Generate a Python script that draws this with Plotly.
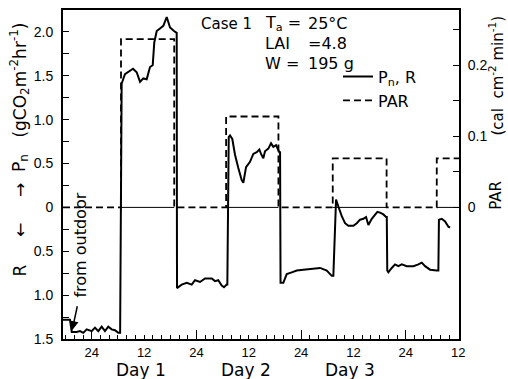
import plotly.graph_objects as go

# ---------------- data (hours from midnight before Day 1) ----------------
# Net photosynthesis (+) / respiration (-) in g CO2 m-2 hr-1
t_pn = [-6.6, -5.0, -4.6, -3.5, -2.7, -1.95, -1.17, -0.02, 0.73, 1.49, 2.27, 3.03, 3.78, 4.56, 5.32, 6.08, 6.5,
        6.85, 7.61, 8.76, 9.45, 10.30, 11.06, 11.81, 12.59, 13.35, 13.97, 14.33, 14.89, 15.64, 16.40, 17.18,
        17.94, 18.85, 19.31, 19.47,
        19.54, 20.62, 21.77, 22.91, 23.67, 24.82, 25.96, 26.72, 27.50, 28.26, 29.01, 29.79, 30.32, 30.94, 31.08,
        31.4, 31.70, 32.22, 32.84, 33.60, 34.38, 34.75, 35.37, 36.28, 37.04, 37.82, 38.42, 38.81, 39.33, 39.72,
        40.48, 41.10, 41.63, 42.25, 42.78, 43.00, 43.17,
        43.28, 43.92, 44.70, 45.85, 47.00, 48.51, 50.05, 51.95, 52.34, 53.88, 55.02, 55.39,
        56.01, 56.54, 57.32, 58.07, 58.83, 59.98, 60.76, 61.51, 62.27, 62.89, 63.42, 64.20, 64.95, 65.48,
        66.10, 66.86, 67.48, 67.64,
        67.75, 68.00, 68.78, 69.54, 70.30, 71.08, 72.22, 73.74, 74.89, 75.67, 76.42, 77.57, 79.10, 79.47,
        79.60, 80.25, 81.01, 81.77, 82.16]
v_pn = [-1.28, -1.28, -1.42, -1.42, -1.41, -1.43, -1.39, -1.41, -1.37, -1.41, -1.36, -1.41, -1.36, -1.39, -1.40, -1.43, -1.43,
        1.41, 1.52, 1.56, 1.58, 1.54, 1.43, 1.47, 1.46, 1.60, 1.62, 1.88, 2.01, 2.04, 2.07, 2.17,
        2.05, 2.01, 1.99, 1.99,
        -0.92, -0.88, -0.86, -0.88, -0.83, -0.85, -0.81, -0.81, -0.81, -0.84, -0.83, -0.89, -0.91, -0.88, -0.88,
        0.80, 0.82, 0.78, 0.60, 0.45, 0.31, 0.28, 0.46, 0.52, 0.61, 0.63, 0.66, 0.61, 0.56, 0.64,
        0.67, 0.73, 0.69, 0.71, 0.65, 0.63, 0.63,
        -0.86, -0.86, -0.76, -0.74, -0.72, -0.71, -0.70, -0.69, -0.69, -0.72, -0.78, -0.78,
        0.09, 0.01, -0.10, -0.18, -0.21, -0.21, -0.18, -0.14, -0.13, -0.11, -0.20, -0.13, -0.08, -0.05,
        -0.06, -0.08, -0.11, -0.11,
        -0.72, -0.74, -0.69, -0.65, -0.67, -0.65, -0.67, -0.67, -0.65, -0.63, -0.67, -0.71, -0.72, -0.72,
        -0.14, -0.13, -0.16, -0.22, -0.23]

# PAR (cal cm-2 min-1): light periods
light_on = [6.7, 30.8, 55.25, 79.1]
light_off = [18.9, 42.8, 67.6, None]      # None: still on at end of record
par_level = [0.237, 0.128, 0.069, 0.069]

t_start, t_end = -6.6, 84.2
x_tickvals = [0, 12, 24, 36, 48, 60, 72, 84]
x_ticktext = ["24", "12", "24", "12", "24", "12", "24", "12"]
midnights = [0, 24, 48, 72]
day_names = ["Day 1", "Day 2", "Day 3"]
day_noons = [12, 36, 60]

y_tickvals = [-1.5, -1.0, -0.5, 0, 0.5, 1.0, 1.5, 2.0]
y_ticktext = ["1.5", "1.0", "0.5", "0", "0.5", "1.0", "1.5", "2.0"]
y_minor = [-1.25, -0.75, -0.25, 0.25, 0.75, 1.25, 1.75]
par_tickvals = [0, 0.1, 0.2]
par_ticktext = ["0", "0.1", "0.2"]
par_minor = [0.05, 0.15, 0.25]

# ---------------- build PAR step + zero segments from data ----------------
par_x, par_y = [t_start], [0]
zero_x, zero_y = [], []
for on, off, lev in zip(light_on, light_off, par_level):
    par_x += [on, on]
    par_y += [0, lev]
    end = off if off is not None else t_end
    if off is not None:
        par_x += [off, off]
        par_y += [lev, 0]
    else:
        par_x += [t_end]
        par_y += [lev]
    zero_x += [on, end, None]
    zero_y += [0, 0, None]
if light_off[-1] is not None:
    par_x.append(t_end)
    par_y.append(0)

FONT = "DejaVu Sans"
TICKFONT = "Liberation Sans"

fig = go.Figure()
fig.add_trace(go.Scatter(x=zero_x, y=zero_y, mode="lines", xaxis="x2", yaxis="y",
                         line=dict(color="black", width=1), showlegend=False, hoverinfo="skip"))
fig.add_trace(go.Scatter(x=t_pn, y=v_pn, mode="lines", name="P<sub>n</sub>, R",
                         line=dict(color="black", width=2)))
fig.add_trace(go.Scatter(x=par_x, y=par_y, mode="lines", name="PAR", yaxis="y2",
                         line=dict(color="black", width=1.8, dash="7px,4px")))

# pixel -> paper helpers (plot area: x 63..459, y 8..339)
def px(p):
    return (p - 63) / 396.0

def py(p):
    return (339 - p) / 331.0

ann = []
def txt(text, x, y, size=16, angle=0, xanchor="center", font=FONT):
    ann.append(dict(text=text, x=px(x), y=py(y), xref="paper", yref="paper", showarrow=False,
                    textangle=angle, xanchor=xanchor, yanchor="middle",
                    font=dict(family=font, size=size, color="black")))

# left axis title pieces
txt("R", 20, 270, 17, -90)
txt("←", 20, 229, 17, -90)
txt("→", 20, 189, 17, -90)
txt("P<sub>n</sub>", 20, 162, 17, -90)
txt("(gCO<sub>2</sub>m<sup>-2</sup>hr<sup>-1</sup>)", 20, 79, 17, -90)
# right axis title
txt("PAR", 496, 195, 15, -90)
txt("(cal&nbsp; cm<sup>-2</sup> min<sup>-1</sup>)", 496, 74, 15, -90)
# in-plot texts
txt("Case 1", 199, 22, 15, 0, "left")
txt("T<sub>a</sub> =", 263, 22, 16, 0, "left")
txt("25°C", 306, 22, 16, 0, "left")
txt("LAI", 263, 42, 16, 0, "left")
txt("=4.8", 306, 42, 16, 0, "left")
txt("W =", 263, 62, 16, 0, "left")
txt("195 g", 306, 62, 16, 0, "left")
txt("from outdoor", 81, 245, 16, -90)
# day labels
for name, noon in zip(day_names, day_noons):
    ann.append(dict(text=name, x=noon, y=py(370), xref="x", yref="paper", showarrow=False,
                    xanchor="center", yanchor="middle", xshift=-3,
                    font=dict(family=FONT, size=17, color="black")))
# arrow for "from outdoor"
ann.append(dict(text=" ", x=-4.5, y=-1.40, xref="x", yref="y", showarrow=True, ax=6, ay=-28,
                arrowhead=2, arrowsize=1.2, arrowwidth=1.5, arrowcolor="black",
                font=dict(size=4)))

fig.update_layout(
    width=508, height=379,
    margin=dict(l=63, r=49, t=8, b=40),
    paper_bgcolor="white", plot_bgcolor="white",
    font=dict(family=FONT, color="black"),
    annotations=ann,
    legend=dict(x=px(338), y=py(58), xanchor="left", yanchor="top", bgcolor="rgba(0,0,0,0)",
                font=dict(family=FONT, size=16, color="black"), tracegroupgap=0, itemwidth=30),
    xaxis=dict(range=[t_start, t_end], tickmode="array", tickvals=x_tickvals, ticktext=x_ticktext,
               ticks="inside", ticklen=4, tickwidth=1.3, tickcolor="black",
               minor=dict(dtick=2, tick0=0, ticks="inside", ticklen=4, tickwidth=1.3, tickcolor="black"),
               showline=True, linewidth=2, linecolor="black", mirror=True,
               showgrid=False, zeroline=False,
               tickfont=dict(family=TICKFONT, size=13, color="black")),
    xaxis2=dict(range=[t_start, t_end], overlaying="x", anchor="y", side="bottom",
                tickmode="array", tickvals=midnights, ticktext=["24"] * len(midnights),
                ticks="inside", ticklen=9, tickwidth=1.3,
                tickcolor="black", showticklabels=False, showline=False, showgrid=False, zeroline=False),
    yaxis=dict(range=[-1.5, 2.25], tickmode="array", tickvals=y_tickvals, ticktext=y_ticktext,
               ticks="inside", ticklen=6, tickwidth=1.3, tickcolor="black",
               minor=dict(tickmode="array", tickvals=y_minor, ticks="inside", ticklen=6,
                          tickwidth=1.3, tickcolor="black"),
               showline=True, linewidth=2, linecolor="black", showgrid=False, zeroline=False,
               ticklabelstandoff=5,
               tickfont=dict(family=TICKFONT, size=14, color="black")),
    yaxis2=dict(range=[-0.1853, 0.278], overlaying="y", side="right", anchor="x",
                tickmode="array", tickvals=par_tickvals, ticktext=par_ticktext,
                ticks="inside", ticklen=6, tickwidth=1.3, tickcolor="black",
                minor=dict(tickmode="array", tickvals=par_minor, ticks="inside", ticklen=6,
                           tickwidth=1.3, tickcolor="black"),
                showline=True, linewidth=2, linecolor="black", showgrid=False, zeroline=False,
                ticklabelstandoff=4,
                tickfont=dict(family=TICKFONT, size=14, color="black")),
)

fig.write_html("out.html")
